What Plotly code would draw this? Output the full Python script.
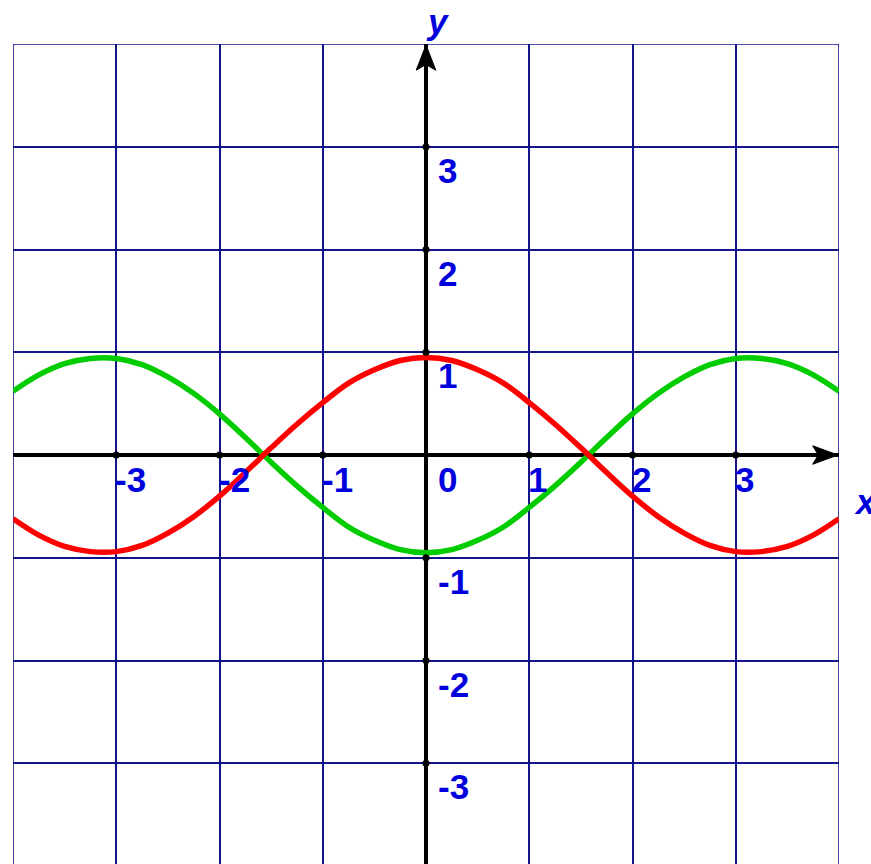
import plotly.graph_objects as go

x_vals = [-4.0, -3.75, -3.5, -3.25, -3.0, -2.75, -2.5, -2.25, -2.0, -1.75, -1.5, -1.25, -1.0,
          -0.75, -0.5, -0.25, 0.0, 0.25, 0.5, 0.75, 1.0, 1.25, 1.5, 1.75, 2.0, 2.25, 2.5,
          2.75, 3.0, 3.25, 3.5, 3.75, 4.0]
red_y = [-0.62, -0.78, -0.89, -0.94, -0.94, -0.88, -0.76, -0.60, -0.40, -0.17, 0.07, 0.30, 0.51,
         0.70, 0.83, 0.92, 0.95, 0.92, 0.83, 0.70, 0.51, 0.30, 0.07, -0.17, -0.40, -0.60, -0.76,
         -0.88, -0.94, -0.94, -0.89, -0.78, -0.62]
green_y = [0.62, 0.78, 0.89, 0.94, 0.94, 0.88, 0.76, 0.60, 0.40, 0.17, -0.07, -0.30, -0.51,
           -0.70, -0.83, -0.92, -0.95, -0.92, -0.83, -0.70, -0.51, -0.30, -0.07, 0.17, 0.40, 0.60, 0.76,
           0.88, 0.94, 0.94, 0.89, 0.78, 0.62]

x_ticks = [-3, -2, -1, 0, 1, 2, 3]
x_tick_labels = ["-3", "-2", "-1", "0", "1", "2", "3"]
y_ticks = [-3, -2, -1, 1, 2, 3]
y_tick_labels = ["-3", "-2", "-1", "1", "2", "3"]
dot_ticks = [-3, -2, -1, 1, 2, 3]

GRID = "#14148a"
BLUE = "#0000dd"
FONT = "Liberation Sans, Arial, sans-serif"
FS = 35

fig = go.Figure()

fig.add_trace(go.Scatter(x=x_vals, y=green_y, mode="lines", line=dict(color="#00cc00", width=5.5, shape="spline"),
                         hoverinfo="skip", showlegend=False))
fig.add_trace(go.Scatter(x=x_vals, y=red_y, mode="lines", line=dict(color="#ff0000", width=5.5, shape="spline"),
                         hoverinfo="skip", showlegend=False))

# tick dots on axes
fig.add_trace(go.Scatter(x=dot_ticks + [0] * len(dot_ticks), y=[0] * len(dot_ticks) + dot_ticks,
                         mode="markers", marker=dict(color="black", size=7),
                         hoverinfo="skip", showlegend=False))

ann = []
for v, t in zip(x_ticks, x_tick_labels):
    ann.append(dict(x=v, y=0, xref="x", yref="y", text="<b>%s</b>" % t, showarrow=False,
                    xanchor="left", yanchor="top", xshift=(10 if v == 0 else -3), yshift=-3,
                    font=dict(family=FONT, size=FS, color=BLUE)))
for v, t in zip(y_ticks, y_tick_labels):
    ann.append(dict(x=0, y=v, xref="x", yref="y", text="<b>%s</b>" % t, showarrow=False,
                    xanchor="left", yanchor="top", xshift=10, yshift=-2,
                    font=dict(family=FONT, size=FS, color=BLUE)))
ann.append(dict(x=0.11, y=1.027, xref="x", yref="paper", text="<b><i>y</i></b>", showarrow=False,
                xanchor="center", yanchor="middle", font=dict(family=FONT, size=FS, color=BLUE)))
ann.append(dict(x=1.0315, y=-0.45, xref="paper", yref="y", text="<b><i>x</i></b>", showarrow=False,
                xanchor="center", yanchor="middle", font=dict(family=FONT, size=FS, color=BLUE)))

shapes = [
    # outer grid lines
    dict(type="line", xref="x", yref="y", x0=-4, x1=-4, y0=-3.98, y1=4, layer="below",
         line=dict(color=GRID, width=1.6)),
    dict(type="line", xref="x", yref="y", x0=4, x1=4, y0=-3.98, y1=4, layer="below",
         line=dict(color=GRID, width=1.6)),
    dict(type="line", xref="x", yref="y", x0=-4, x1=4, y0=4, y1=4, layer="below",
         line=dict(color=GRID, width=1.6)),
    # arrowheads
    dict(type="path", xref="x", yref="y", layer="above",
         path="M 0,3.99 L 0.095,3.745 L 0,3.80 L -0.095,3.745 Z",
         fillcolor="black", line=dict(color="black", width=1)),
    dict(type="path", xref="x", yref="y", layer="above",
         path="M 3.99,0 L 3.745,0.09 L 3.80,0 L 3.745,-0.09 Z",
         fillcolor="black", line=dict(color="black", width=1)),
]

fig.update_layout(
    width=871, height=864,
    margin=dict(l=13, r=32, t=44, b=0),
    paper_bgcolor="white", plot_bgcolor="white",
    annotations=ann, shapes=shapes,
    xaxis=dict(range=[-4, 4], dtick=1, tick0=0, showticklabels=False, ticks="",
               showgrid=True, gridcolor=GRID, gridwidth=1.6,
               zeroline=True, zerolinecolor="black", zerolinewidth=4,
               showline=False, fixedrange=True),
    yaxis=dict(range=[-3.98, 4], dtick=1, tick0=0, showticklabels=False, ticks="",
               showgrid=True, gridcolor=GRID, gridwidth=1.6,
               zeroline=True, zerolinecolor="black", zerolinewidth=4,
               showline=False, fixedrange=True),
)

fig.write_html("out.html", config={"displayModeBar": False},
               post_script="document.body.style.margin='0';document.body.style.overflow='hidden';")
